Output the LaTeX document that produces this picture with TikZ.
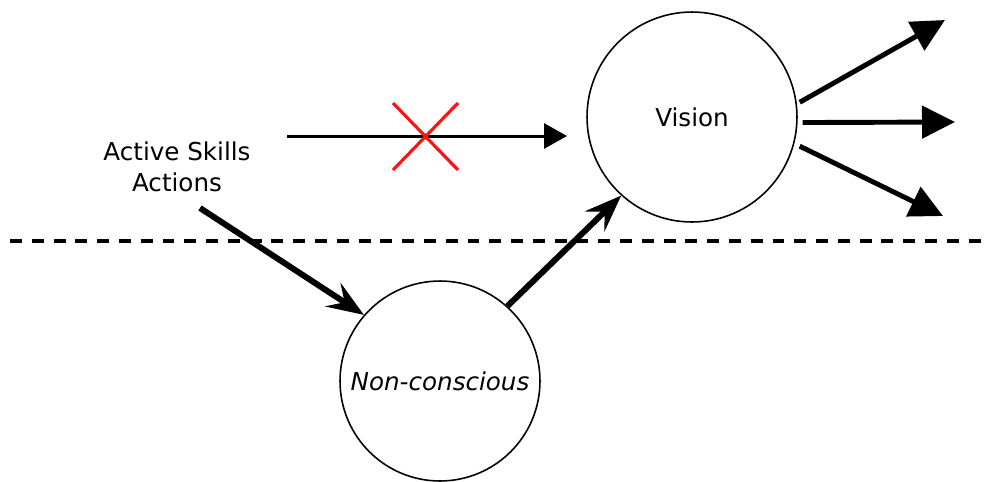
\documentclass[tikz,border=0pt]{standalone}
\usepackage{fontspec}
\setmainfont{DejaVu Sans}
\usepackage{tikz}
\usetikzlibrary{arrows.meta}
\definecolor{lineColor}{RGB}{0, 0, 0}
\definecolor{crossColor}{RGB}{250, 20, 20}
\tikzset{
    mind_node/.style={
        circle,
        draw=lineColor,
        line width=0.9pt,
        inner sep=0pt,
        font=\fontsize{14}{16}\selectfont
    },
    label_node/.style={
        align=center,
        inner sep=0pt,
        font=\fontsize{14}{17.6}\selectfont
    },
    flow_edge/.style={
        -{Stealth[length=7.4mm,width=5.6mm,inset=2.8mm]},
        line width=3.4pt,
        draw=lineColor
    },
    out_edge/.style={
        -{Triangle[length=6.6mm,width=6.4mm]},
        line width=2.8pt,
        draw=lineColor
    },
    blocked_edge/.style={
        -{Triangle[length=4.6mm,width=5mm]},
        line width=1.7pt,
        draw=lineColor
    },
    cross_line/.style={
        line width=1.8pt,
        draw=crossColor
    },
    border_line/.style={
        line width=2.8pt,
        dash pattern=on 6.8pt off 5.6pt
    }
}
\begin{document}
\begin{tikzpicture}[x=0.02cm, y=-0.02cm]
    \useasboundingbox (0,0) rectangle (984,481);

    \node[mind_node, minimum size=4.2cm] (vision) at (692,117) {Vision};
    \node[mind_node, minimum size=4cm] (noncon) at (440,381) {\itshape Non-conscious};
    \node[label_node] (skills) at (177,167) {Active Skills\\Actions};

    % divide between conscious and non-conscious
    \coordinate (divL) at (10,241);
    \coordinate (divR) at (984,241);
    \draw[border_line] (divL) -- (divR);

    % direct path, blocked
    \coordinate (blockS) at (287,136);
    \coordinate (blockE) at (567,136);
    \draw[blocked_edge] (blockS) -- (blockE);
    \draw[cross_line] (393,103) -- (458,170) (393,170) -- (458,103);

    \coordinate (skillsOut) at (200,208);
    \draw[flow_edge] (skillsOut) -- (noncon.139);
    \draw[flow_edge] (noncon.48) -- (vision.228);

    % outputs of vision
    \coordinate (out1) at (945,20);
    \coordinate (out2) at (955,122);
    \coordinate (out3) at (943,216);
    \draw[out_edge] (vision.8) ++(3,0) -- (out1);
    \draw[out_edge] (vision.-3) ++(5,0) -- (out2);
    \draw[out_edge] (vision.-16) ++(6,0) -- (out3);
\end{tikzpicture}
\end{document}
